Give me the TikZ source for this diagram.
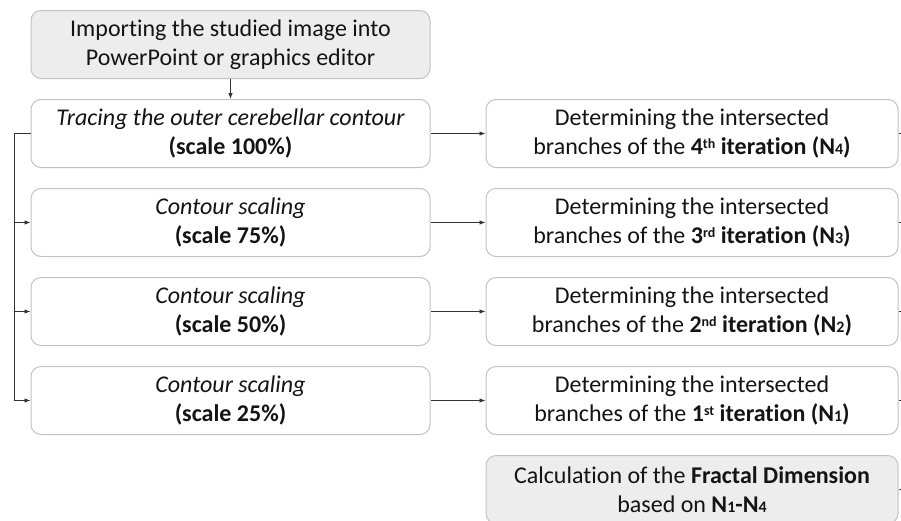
\documentclass[tikz,border=0pt]{standalone}
\usepackage{fontspec}
\setmainfont[Ligatures=NoCommon]{Carlito}
\usetikzlibrary{positioning,arrows.meta}
\definecolor{boxline}{HTML}{C2C2C2}
\definecolor{boxfill}{HTML}{EDEDED}
\definecolor{txtcol}{HTML}{141414}
\definecolor{wirecol}{HTML}{333333}
\newcommand{\ndig}[1]{{\fontsize{16}{16}\selectfont #1}}
\newcommand{\ord}[1]{\raisebox{0.5ex}{\fontsize{14}{14}\selectfont #1}}

\begin{document}
\begin{tikzpicture}[x=1pt, y=1pt, node distance=20pt and 55pt, >={Latex[length=6pt,width=4.5pt]},
        every node/.style={font=\fontsize{24}{29}\selectfont, text=txtcol},
        stepbox/.style={draw=boxline, line width=1pt, rounded corners=10pt, align=center, minimum height=68pt, inner sep=3pt, fill=white},
        leftbox/.style={stepbox, minimum width=399pt},
        rightbox/.style={stepbox, minimum width=412pt},
        greybox/.style={fill=boxfill},
        wire/.style={draw=wirecol, line width=0.9pt}]
    \useasboundingbox (0,0) rectangle (901,-520);
    % left column
    \node[leftbox, greybox] (import) at (230.5,-44.5) {Importing the studied image into\\PowerPoint or graphics editor};
    \node[leftbox, below=of import] (trace) {\textit{Tracing the outer cerebellar contour}\\\textbf{(scale 100\%)}};
    \node[leftbox, below=of trace] (s75) {\textit{Contour scaling}\\\textbf{(scale 75\%)}};
    \node[leftbox, below=of s75] (s50) {\textit{Contour scaling}\\\textbf{(scale 50\%)}};
    \node[leftbox, below=of s50] (s25) {\textit{Contour scaling}\\\textbf{(scale 25\%)}};
    % right column
    \node[rightbox, right=of trace] (n4) {Determining the intersected\\branches of the \textbf{4\ord{th} iteration (N\ndig{4})}};
    \node[rightbox, right=of s75] (n3) {Determining the intersected\\branches of the \textbf{3\ord{rd} iteration (N\ndig{3})}};
    \node[rightbox, right=of s50] (n2) {Determining the intersected\\branches of the \textbf{2\ord{nd} iteration (N\ndig{2})}};
    \node[rightbox, right=of s25] (n1) {Determining the intersected\\branches of the \textbf{1\ord{st} iteration (N\ndig{1})}};
    \node[rightbox, greybox, below=of n1] (fractal) {Calculation of the \textbf{Fractal Dimension}\\based on \textbf{N\ndig{1}-N\ndig{4}}};
    % buses
    \coordinate (lbus) at (14,0);
    \coordinate (rbus) at (912,0);
    \draw[wire, ->] (import) -- (trace);
    \draw[wire, ->] (trace.west) -- (trace.west -| lbus) |- (s25.west);
    \foreach \s in {s75,s50}
        \draw[wire, ->] (\s.west -| lbus) -- (\s.west);
    \draw[wire, ->] (trace) -- (n4);
    \draw[wire, ->] (s75) -- (n3);
    \draw[wire, ->] (s50) -- (n2);
    \draw[wire, ->] (s25) -- (n1);
    \draw[wire, ->] (n4.east) -| (rbus |- fractal.east) -- (fractal.east);
    \foreach \n in {n3,n2,n1}
        \draw[wire] (\n.east) -- (\n.east -| rbus);
\end{tikzpicture}
\end{document}
